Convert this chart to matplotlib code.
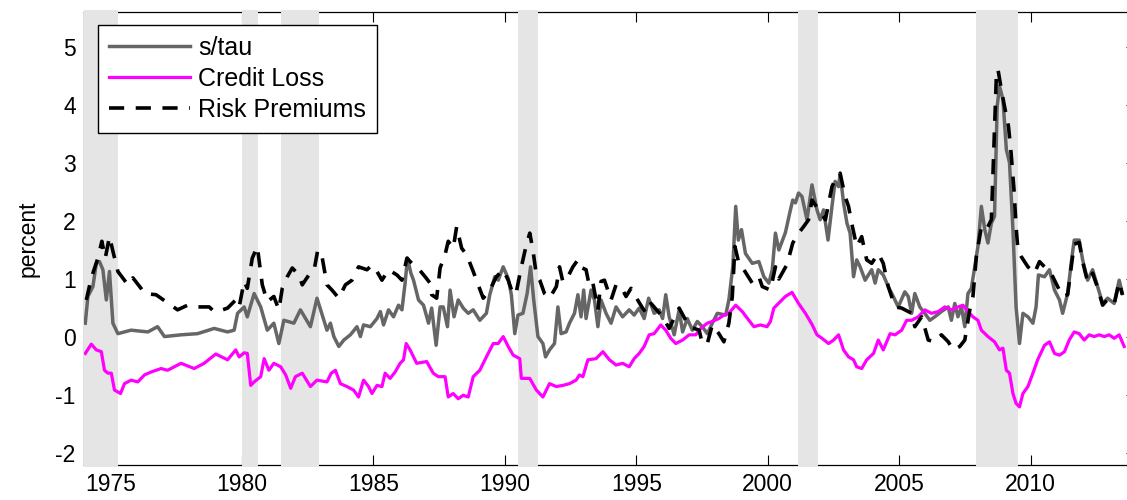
import matplotlib
matplotlib.use("Agg")
import matplotlib.pyplot as plt

# s/tau
stau_years = [1974.05, 1974.15, 1974.34, 1974.47, 1974.59, 1974.72, 1974.85, 1974.97, 1975.10, 1975.29,
              1975.79, 1976.43, 1976.80, 1977.06, 1977.69, 1978.32, 1978.95, 1979.46, 1979.71, 1979.84,
              1980.09, 1980.21, 1980.47, 1980.72, 1980.97, 1981.22, 1981.41, 1981.60, 1981.98, 1982.23,
              1982.61, 1982.86, 1983.24, 1983.37, 1983.50, 1983.69, 1983.88, 1984.13, 1984.38, 1984.51,
              1984.63, 1984.89, 1985.14, 1985.27, 1985.39, 1985.58, 1985.77, 1985.96, 1986.09, 1986.21,
              1986.30, 1986.43, 1986.53, 1986.72, 1986.91, 1987.10, 1987.22, 1987.39, 1987.54, 1987.66,
              1987.82, 1987.92, 1988.07, 1988.23, 1988.42, 1988.61, 1988.80, 1989.05, 1989.30, 1989.43,
              1989.62, 1989.75, 1989.94, 1990.13, 1990.25, 1990.38, 1990.50, 1990.69, 1990.85, 1990.98,
              1991.10, 1991.26, 1991.45, 1991.55, 1991.70, 1991.89, 1992.02, 1992.14, 1992.33, 1992.46,
              1992.65, 1992.78, 1992.90, 1993.00, 1993.09, 1993.28, 1993.41, 1993.54, 1993.66, 1993.85,
              1994.04, 1994.23, 1994.48, 1994.73, 1994.92, 1995.11, 1995.30, 1995.47, 1995.68, 1995.87,
              1996.00, 1996.12, 1996.25, 1996.44, 1996.63, 1996.76, 1996.94, 1997.13, 1997.32, 1997.51,
              1997.70, 1997.89, 1998.08, 1998.40, 1998.52, 1998.67, 1998.78, 1998.88, 1999.00, 1999.15,
              1999.41, 1999.66, 1999.85, 2000.04, 2000.17, 2000.29, 2000.42, 2000.67, 2000.86, 2000.95,
              2001.05, 2001.17, 2001.30, 2001.49, 2001.68, 2001.87, 2001.99, 2002.12, 2002.29, 2002.44,
              2002.56, 2002.69, 2002.75, 2002.88, 2003.01, 2003.13, 2003.26, 2003.38, 2003.51, 2003.70,
              2003.95, 2004.08, 2004.20, 2004.39, 2004.58, 2004.77, 2004.96, 2005.21, 2005.34, 2005.47,
              2005.59, 2005.78, 2005.97, 2006.16, 2006.35, 2006.60, 2006.86, 2006.98, 2007.11, 2007.23,
              2007.36, 2007.49, 2007.61, 2007.74, 2007.87, 2007.99, 2008.12, 2008.25, 2008.37, 2008.50,
              2008.62, 2008.72, 2008.81, 2008.94, 2009.07, 2009.19, 2009.32, 2009.44, 2009.57, 2009.70,
              2009.89, 2010.08, 2010.20, 2010.29, 2010.52, 2010.71, 2010.90, 2011.09, 2011.21, 2011.40,
              2011.55, 2011.65, 2011.84, 2011.97, 2012.16, 2012.35, 2012.54, 2012.73, 2012.92, 2013.17,
              2013.36, 2013.48]
stau_vals = [0.24, 0.70, 0.87, 1.27, 1.30, 1.16, 0.64, 1.13, 0.24, 0.06,
             0.12, 0.09, 0.18, 0.01, 0.04, 0.06, 0.15, 0.09, 0.12, 0.41,
             0.52, 0.35, 0.75, 0.52, 0.12, 0.24, -0.11, 0.29, 0.24, 0.47,
             0.18, 0.67, 0.12, 0.24, 0.01, -0.16, -0.05, 0.04, 0.18, 0.01,
             0.21, 0.18, 0.32, 0.44, 0.21, 0.47, 0.35, 0.55, 0.47, 0.93,
             1.36, 1.10, 0.98, 0.64, 0.55, 0.24, 0.50, -0.14, 0.52, 0.52,
             0.18, 0.81, 0.35, 0.64, 0.50, 0.41, 0.47, 0.29, 0.41, 0.73,
             1.04, 0.98, 1.21, 1.01, 0.73, 0.06, 0.38, 0.41, 0.75, 1.21,
             0.64, 0.01, -0.11, -0.34, -0.22, -0.11, 0.52, 0.06, 0.09, 0.24,
             0.41, 0.73, 0.35, 0.81, 0.32, 0.81, 0.64, 0.18, 0.64, 0.41,
             0.24, 0.52, 0.35, 0.47, 0.38, 0.50, 0.32, 0.67, 0.41, 0.47,
             0.32, 0.73, 0.35, 0.04, 0.47, 0.09, 0.32, 0.12, 0.27, 0.18,
             0.06, 0.24, 0.41, 0.38, 0.64, 1.21, 2.25, 1.67, 1.85, 1.44,
             1.27, 1.30, 1.04, 0.93, 1.16, 1.79, 1.50, 1.80, 2.19, 2.36,
             2.31, 2.48, 2.42, 2.02, 2.62, 2.19, 2.02, 2.19, 1.67, 2.25,
             2.68, 2.59, 2.82, 2.31, 1.96, 1.79, 1.04, 1.33, 1.21, 0.98,
             1.16, 0.93, 1.16, 1.07, 0.87, 0.70, 0.52, 0.78, 0.70, 0.41,
             0.75, 0.52, 0.41, 0.29, 0.35, 0.44, 0.52, 0.29, 0.58, 0.35,
             0.52, 0.18, 0.75, 0.84, 1.21, 1.56, 2.25, 1.85, 1.62, 1.96,
             2.08, 3.97, 4.32, 4.09, 3.23, 3.00, 1.85, 0.52, -0.11, 0.41,
             0.35, 0.24, 0.52, 1.07, 1.04, 1.16, 0.81, 0.64, 0.41, 0.75,
             1.33, 1.67, 1.67, 1.33, 0.98, 1.16, 0.87, 0.58, 0.67, 0.58,
             0.98, 0.75]

# credit loss
loss_years = [1974.05, 1974.28, 1974.47, 1974.66, 1974.78, 1974.91, 1975.04, 1975.16, 1975.39, 1975.54,
              1975.79, 1976.05, 1976.30, 1976.55, 1976.93, 1977.18, 1977.69, 1978.19, 1978.57, 1979.01,
              1979.46, 1979.77, 1979.90, 1980.09, 1980.21, 1980.34, 1980.47, 1980.72, 1980.85, 1981.03,
              1981.22, 1981.48, 1981.67, 1981.86, 1982.04, 1982.30, 1982.61, 1982.86, 1983.24, 1983.40,
              1983.56, 1983.75, 1984.00, 1984.25, 1984.44, 1984.63, 1984.82, 1984.95, 1985.14, 1985.33,
              1985.45, 1985.64, 1985.83, 1986.02, 1986.15, 1986.25, 1986.40, 1986.65, 1987.03, 1987.28,
              1987.47, 1987.73, 1987.85, 1988.04, 1988.23, 1988.42, 1988.61, 1988.80, 1989.05, 1989.30,
              1989.56, 1989.75, 1989.94, 1990.13, 1990.32, 1990.57, 1990.63, 1990.95, 1991.20, 1991.45,
              1991.70, 1991.96, 1992.21, 1992.46, 1992.71, 1992.84, 1992.97, 1993.16, 1993.47, 1993.73,
              1993.98, 1994.23, 1994.48, 1994.73, 1994.92, 1995.11, 1995.30, 1995.49, 1995.68, 1995.93,
              1996.12, 1996.31, 1996.50, 1996.76, 1997.01, 1997.26, 1997.45, 1997.70, 1997.89, 1998.14,
              1998.33, 1998.52, 1998.78, 1999.03, 1999.28, 1999.47, 1999.72, 1999.97, 2000.10, 2000.23,
              2000.45, 2000.67, 2000.92, 2001.17, 2001.43, 2001.68, 2001.87, 2002.06, 2002.31, 2002.50,
              2002.69, 2002.88, 2003.07, 2003.26, 2003.38, 2003.57, 2003.76, 2004.02, 2004.20, 2004.39,
              2004.65, 2004.84, 2005.09, 2005.28, 2005.47, 2005.72, 2005.97, 2006.22, 2006.48, 2006.73,
              2006.98, 2007.23, 2007.42, 2007.55, 2007.80, 2007.99, 2008.12, 2008.37, 2008.62, 2008.81,
              2008.94, 2009.07, 2009.19, 2009.32, 2009.44, 2009.57, 2009.70, 2009.89, 2010.08, 2010.26,
              2010.52, 2010.71, 2010.90, 2011.09, 2011.28, 2011.46, 2011.65, 2011.84, 2012.03, 2012.22,
              2012.41, 2012.60, 2012.79, 2012.98, 2013.17, 2013.36, 2013.55]
loss_vals = [-0.28, -0.12, -0.22, -0.25, -0.57, -0.62, -0.62, -0.91, -0.97, -0.80,
             -0.74, -0.77, -0.65, -0.60, -0.54, -0.57, -0.45, -0.54, -0.45, -0.29,
             -0.39, -0.22, -0.34, -0.27, -0.28, -0.83, -0.77, -0.68, -0.37, -0.57,
             -0.45, -0.51, -0.65, -0.88, -0.68, -0.62, -0.85, -0.74, -0.77, -0.62,
             -0.57, -0.80, -0.85, -0.91, -1.03, -0.74, -0.85, -0.97, -0.83, -0.85,
             -0.62, -0.71, -0.60, -0.45, -0.39, -0.11, -0.22, -0.45, -0.42, -0.62,
             -0.68, -0.68, -1.03, -0.97, -1.06, -1.00, -1.03, -0.68, -0.57, -0.34,
             -0.11, -0.11, 0.01, -0.16, -0.31, -0.37, -0.71, -0.71, -0.91, -1.03,
             -0.80, -0.85, -0.83, -0.80, -0.74, -0.65, -0.68, -0.39, -0.37, -0.25,
             -0.39, -0.48, -0.45, -0.51, -0.37, -0.28, -0.16, 0.04, 0.06, 0.21,
             0.12, -0.02, -0.11, -0.05, 0.04, 0.04, 0.15, 0.24, 0.27, 0.32,
             0.38, 0.41, 0.55, 0.44, 0.29, 0.18, 0.21, 0.18, 0.27, 0.50,
             0.60, 0.70, 0.77, 0.58, 0.41, 0.22, 0.04, -0.02, -0.11, -0.05,
             0.04, -0.22, -0.34, -0.39, -0.51, -0.54, -0.39, -0.28, -0.05, -0.22,
             0.06, 0.04, 0.12, 0.29, 0.29, 0.35, 0.47, 0.41, 0.44, 0.52,
             0.47, 0.52, 0.55, 0.47, 0.35, 0.29, 0.12, 0.01, -0.08, -0.22,
             -0.19, -0.57, -0.62, -0.97, -1.14, -1.20, -0.97, -0.85, -0.62, -0.39,
             -0.14, -0.08, -0.28, -0.31, -0.25, -0.05, 0.09, 0.06, -0.05, 0.04,
             0.01, 0.04, 0.01, 0.04, -0.02, 0.04, -0.16]

# risk premiums
prem_years = [1974.09, 1974.28, 1974.53, 1974.68, 1974.81, 1974.97, 1975.10, 1975.29, 1975.67, 1975.86,
              1976.17, 1976.30, 1976.74, 1976.93, 1977.31, 1977.56, 1977.94, 1978.32, 1978.76, 1978.95,
              1979.27, 1979.46, 1979.77, 1979.90, 1980.09, 1980.21, 1980.40, 1980.59, 1980.78, 1980.97,
              1981.22, 1981.41, 1981.54, 1981.73, 1981.92, 1982.17, 1982.30, 1982.55, 1982.74, 1982.89,
              1983.05, 1983.24, 1983.43, 1983.69, 1983.94, 1984.19, 1984.44, 1984.76, 1984.95, 1985.14,
              1985.33, 1985.58, 1985.90, 1986.09, 1986.28, 1986.53, 1986.75, 1986.97, 1987.16, 1987.22,
              1987.41, 1987.54, 1987.73, 1987.85, 1988.04, 1988.17, 1988.36, 1988.55, 1988.80, 1988.99,
              1989.18, 1989.43, 1989.68, 1989.94, 1990.13, 1990.32, 1990.44, 1990.63, 1990.82, 1990.95,
              1991.07, 1991.20, 1991.33, 1991.51, 1991.70, 1991.96, 1992.08, 1992.21, 1992.40, 1992.59,
              1992.78, 1992.90, 1993.09, 1993.22, 1993.35, 1993.54, 1993.66, 1993.79, 1994.04, 1994.23,
              1994.42, 1994.61, 1994.80, 1995.05, 1995.24, 1995.37, 1995.56, 1996.00, 1996.25, 1996.63,
              1997.01, 1997.39, 1997.51, 1997.70, 1997.89, 1998.14, 1998.33, 1998.52, 1998.65, 1998.75,
              1998.90, 1999.09, 1999.41, 1999.66, 1999.79, 2000.10, 2000.29, 2000.42, 2000.73, 2000.95,
              2001.17, 2001.36, 2001.55, 2001.68, 2001.93, 2002.19, 2002.44, 2002.63, 2002.75, 2002.94,
              2003.07, 2003.19, 2003.38, 2003.57, 2003.76, 2003.95, 2004.20, 2004.39, 2004.58, 2004.84,
              2005.09, 2005.47, 2005.59, 2005.85, 2006.10, 2006.35, 2006.60, 2006.86, 2007.05, 2007.30,
              2007.49, 2007.55, 2007.68, 2007.80, 2007.93, 2008.12, 2008.31, 2008.50, 2008.69, 2008.75,
              2008.88, 2009.00, 2009.15, 2009.25, 2009.36, 2009.44, 2009.51, 2009.63, 2009.89, 2010.14,
              2010.33, 2010.52, 2010.77, 2011.02, 2011.21, 2011.40, 2011.55, 2011.65, 2011.84, 2011.97,
              2012.16, 2012.35, 2012.54, 2012.73, 2012.92, 2013.17, 2013.36, 2013.48]
prem_vals = [0.64, 1.02, 1.36, 1.65, 1.36, 1.73, 1.48, 1.13, 0.90, 1.02,
             0.84, 0.75, 0.73, 0.67, 0.55, 0.47, 0.55, 0.52, 0.52, 0.44,
             0.47, 0.50, 0.64, 0.52, 0.96, 0.84, 1.36, 1.56, 0.90, 0.61,
             0.70, 0.47, 0.84, 1.04, 1.19, 1.07, 0.90, 1.07, 1.13, 1.50,
             1.39, 0.90, 0.81, 0.67, 0.90, 0.98, 1.21, 1.16, 1.24, 1.13,
             0.98, 1.16, 1.07, 0.98, 1.36, 1.24, 1.16, 1.04, 0.93, 0.73,
             0.67, 1.19, 1.42, 1.65, 1.53, 1.90, 1.53, 1.42, 1.13, 0.90,
             0.67, 0.81, 1.04, 1.16, 0.98, 0.73, 0.78, 1.21, 1.59, 1.79,
             1.50, 1.07, 0.98, 0.75, 0.67, 0.87, 1.21, 0.95, 1.04, 1.21,
             1.33, 1.20, 1.16, 0.87, 0.93, 0.47, 0.96, 0.98, 0.64, 0.90,
             0.87, 0.70, 0.84, 0.64, 0.50, 0.41, 0.58, 0.35, 0.15, 0.50,
             0.18, 0.12, -0.11, -0.11, 0.21, 0.06, -0.08, 0.24, 0.70, 1.56,
             1.27, 1.16, 0.93, 1.04, 0.87, 0.81, 1.21, 1.00, 1.25, 1.62,
             1.79, 1.90, 2.02, 2.36, 2.19, 2.02, 2.59, 2.77, 2.82, 2.42,
             2.25, 1.96, 1.56, 1.73, 1.33, 1.27, 1.44, 1.27, 0.87, 0.52,
             0.50, 0.41, 0.18, 0.35, -0.05, -0.08, 0.04, -0.08, -0.22, -0.16,
             -0.05, 0.12, 0.47, 0.70, 1.39, 1.90, 1.85, 2.02, 4.49, 4.61,
             4.26, 3.97, 3.63, 3.17, 2.54, 1.90, 1.50, 1.39, 1.21, 1.10,
             1.30, 1.21, 1.10, 0.87, 0.70, 0.73, 1.25, 1.60, 1.63, 1.30,
             0.95, 1.10, 0.85, 0.55, 0.65, 0.57, 0.95, 0.73]

# recession periods (start, end)
recessions = [(1973.83, 1975.3), (1980.0, 1980.62), (1981.5, 1982.95),
              (1990.5, 1991.25), (2001.15, 2001.92), (2007.9, 2009.5)]

xticks = [1975, 1980, 1985, 1990, 1995, 2000, 2005, 2010]
yticks = [-2, -1, 0, 1, 2, 3, 4, 5]

plt.rcParams['font.family'] = ['Liberation Sans', 'DejaVu Sans']
plt.rcParams['axes.unicode_minus'] = False

fig = plt.figure(figsize=(11.27, 5.0), dpi=100)
ax = fig.add_axes([0.0745, 0.07, 0.9335, 0.9066])
xmin, xmax = 1974.0, 2014.0
ax.set_xlim(xmin, xmax)
ax.set_ylim(-2.2, 5.6)

# shaded recessions drawn over the frame, like the original
for start, end in recessions:
    ax.axvspan(max(start, xmin), end, ymin=-0.004, ymax=1.004, color='#e5e5e5',
               lw=0, zorder=3, clip_on=False)

ax.plot(stau_years, stau_vals, color='#666666', lw=2.5, label='s/tau', zorder=4)
ax.plot(loss_years, loss_vals, color='#ff00ff', lw=2.3, label='Credit Loss', zorder=5)
ax.plot(prem_years, prem_vals, color='black', lw=2.6, linestyle=(0, (4.2, 3.2)),
        label='Risk Premiums', zorder=6)

ax.set_xticks(xticks)
ax.set_yticks(yticks)
ax.tick_params(direction='in', length=7, width=0.8, top=True, right=True,
               labelsize=16.5, pad=6)
for s in ax.spines.values():
    s.set_linewidth(0.9)
ax.set_ylabel('percent', fontsize=16.5, labelpad=11)

leg = ax.legend(loc='upper left', bbox_to_anchor=(0.0133, 0.9707), borderaxespad=0,
                fontsize=18, frameon=True, fancybox=False, framealpha=1,
                edgecolor='black', handlelength=3.25, handletextpad=0.3,
                labelspacing=0.28, borderpad=0.45)
leg.get_frame().set_linewidth(1.0)
leg.set_zorder(10)

fig.savefig('out.png', dpi=100)
